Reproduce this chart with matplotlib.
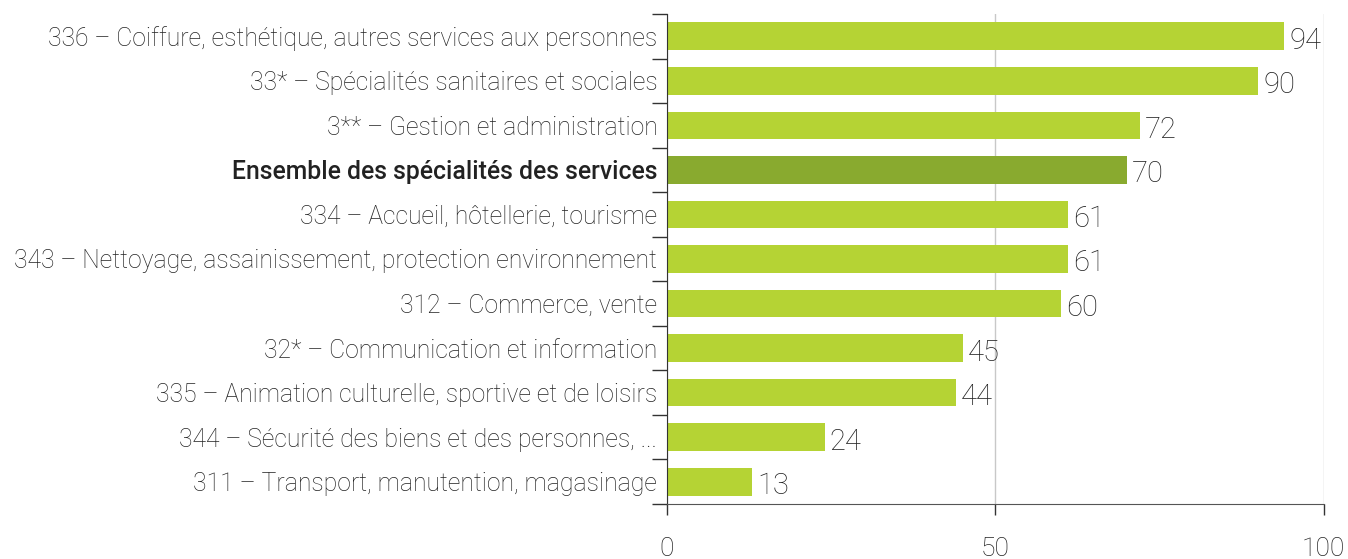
import matplotlib
matplotlib.use("Agg")
import matplotlib.pyplot as plt

categories = [
    "336 – Coiffure, esthétique, autres services aux personnes",
    "33* – Spécialités sanitaires et sociales",
    "3** – Gestion et administration",
    "Ensemble des spécialités des services",
    "334 – Accueil, hôtellerie, tourisme",
    "343 – Nettoyage, assainissement, protection environnement",
    "312 – Commerce, vente",
    "32* – Communication et information",
    "335 – Animation culturelle, sportive et de loisirs",
    "344 – Sécurité des biens et des personnes, ...",
    "311 – Transport, manutention, magasinage",
]
values = [94, 90, 72, 70, 61, 61, 60, 45, 44, 24, 13]
highlight = "Ensemble des spécialités des services"
x_ticks = [0, 50, 100]

plt.rcParams["font.family"] = ["Roboto", "DejaVu Sans"]

fig = plt.figure(figsize=(13.48, 5.59), dpi=100)
ax = fig.add_axes([0.4948, 0.0984, 0.4872, 0.8766])

n = len(categories)
ypos = list(range(n))
colors = ["#89aa2f" if c == highlight else "#b5d334" for c in categories]
ax.barh(ypos, values, height=0.62, color=colors, zorder=2)

for y, v in zip(ypos, values):
    ax.text(v + 0.8, y + 0.1, str(v), va="center", ha="left",
            fontsize=21, fontweight="light", color="#222222")

ax.set_ylim(n - 0.5, -0.5)
ax.set_xlim(0, 100)
ax.set_yticks(ypos)
ax.set_yticklabels(categories, fontsize=17.8, fontweight="light", color="#222222")
for lbl in ax.get_yticklabels():
    if lbl.get_text() == highlight:
        lbl.set_fontweight("medium")
ax.tick_params(axis="y", length=0, pad=7)
# separator ticks between categories
ax.set_yticks([i - 0.5 for i in range(n + 1)], minor=True)
ax.tick_params(axis="y", which="minor", length=11, width=1, color="#333333", direction="out")

ax.set_xticks(x_ticks)
ax.set_xticklabels([str(t) for t in x_ticks], fontsize=19, fontweight="light", color="#222222")
ax.tick_params(axis="x", length=8, width=1, color="#333333", pad=16)
ax.grid(axis="x", color="#c8c8c8", linewidth=1, zorder=0)

for s in ["top", "right"]:
    ax.spines[s].set_visible(False)
ax.spines["left"].set_color("#333333")
ax.spines["bottom"].set_color("#555555")

fig.savefig("out.png", dpi=100)
